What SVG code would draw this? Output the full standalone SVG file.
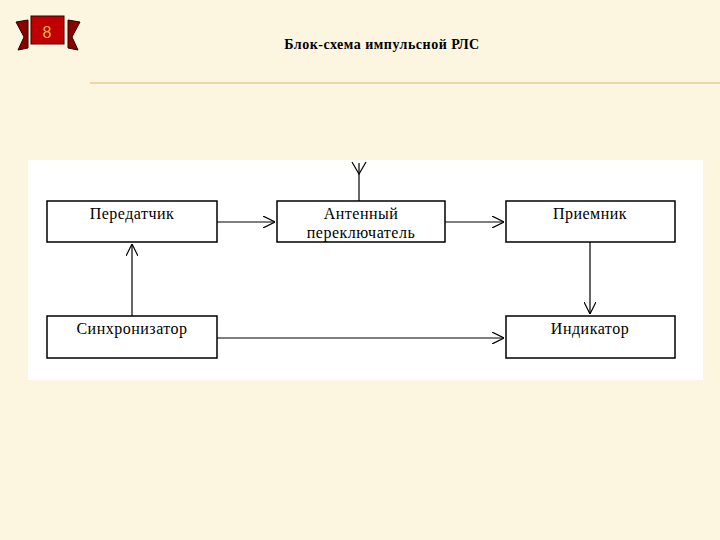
<svg xmlns="http://www.w3.org/2000/svg" width="720" height="540" viewBox="0 0 720 540">
<defs>
<marker id="v" viewBox="0 0 10 10" refX="10" refY="5" markerWidth="12" markerHeight="12" markerUnits="userSpaceOnUse" orient="auto"><path d="M0,0 L10,5 L0,10" fill="none" stroke="#000" stroke-width="1"/></marker>
</defs>
<style>
.b{fill:#fff;stroke:#000;stroke-width:1.5}
.t{font-family:"Liberation Serif",serif;font-size:16px;fill:#000;text-anchor:middle;letter-spacing:0.5px}
.c{stroke:#000;stroke-width:1.2;fill:none}
</style>
<rect width="720" height="540" fill="#fcf5e0"/>
<line x1="90" y1="83" x2="720" y2="83" stroke="#e8d9a8" stroke-width="2"/>
<g id="badge">
<path d="M16,22 L28,20 L28,48 L18,50 L24,37 Z" fill="#8a0000" stroke="#300" stroke-width="1"/>
<path d="M80,22 L68,20 L68,48 L78,50 L72,37 Z" fill="#8a0000" stroke="#300" stroke-width="1"/>
<rect x="31" y="16" width="33" height="28" fill="#c00000" stroke="#300" stroke-width="1"/>
<text x="47" y="38" font-family="Liberation Sans,sans-serif" font-size="16" fill="#f0b040" text-anchor="middle">8</text>
</g>
<text x="382" y="49" font-family="Liberation Serif,serif" font-size="14" font-weight="bold" text-anchor="middle" letter-spacing="0.5">Блок-схема импульсной РЛС</text>
<rect x="28" y="160" width="675" height="220" fill="#fff"/>
<g id="connectors">
<line class="c" x1="217" y1="222" x2="275" y2="222" marker-end="url(#v)"/>
<line class="c" x1="445" y1="222" x2="504" y2="222" marker-end="url(#v)"/>
<line class="c" x1="590" y1="242" x2="590" y2="314" marker-end="url(#v)"/>
<line class="c" x1="132" y1="316" x2="132" y2="244" marker-end="url(#v)"/>
<line class="c" x1="217" y1="338" x2="504" y2="338" marker-end="url(#v)"/>
<line class="c" x1="359" y1="201" x2="359" y2="163"/>
<path class="c" d="M352,162 L359,174 L366,162" stroke-width="1.5"/>
</g>
<g id="n1"><rect class="b" x="47" y="201" width="170" height="41"/><text class="t" x="132" y="219">Передатчик</text></g>
<g id="n2"><rect class="b" x="277" y="201" width="168" height="41"/><text class="t" x="361" y="219">Антенный</text><text class="t" x="361" y="238">переключатель</text></g>
<g id="n3"><rect class="b" x="506" y="201" width="169" height="41"/><text class="t" x="590" y="219">Приемник</text></g>
<g id="n4"><rect class="b" x="47" y="316" width="170" height="42"/><text class="t" x="132" y="334">Синхронизатор</text></g>
<g id="n5"><rect class="b" x="506" y="316" width="169" height="42"/><text class="t" x="590" y="334">Индикатор</text></g>
</svg>
